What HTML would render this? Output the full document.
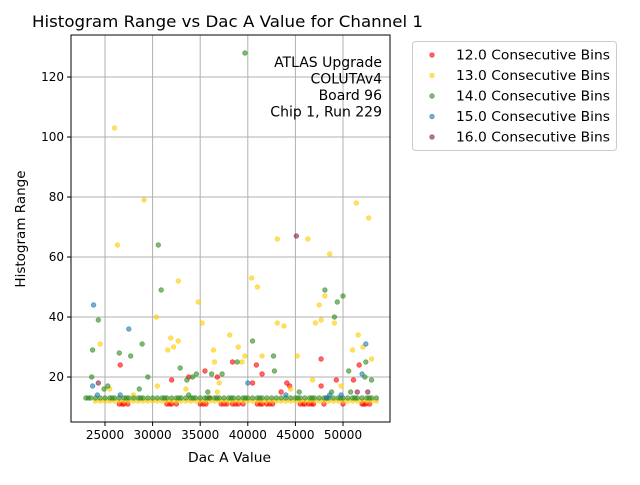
<!DOCTYPE html>
<html><head><meta charset="utf-8"><style>
body{margin:0;background:#fff;font-family:"Liberation Sans","DejaVu Sans",sans-serif}
svg text{font-family:"DejaVu Sans","Liberation Sans",sans-serif}
</style></head><body>
<svg id="c" width="640" height="480"></svg>
<script>
const xTicks=[25000,30000,35000,40000,45000,50000];
const yTicks=[20,40,60,80,100,120];
const seriesNames=["12.0 Consecutive Bins","13.0 Consecutive Bins","14.0 Consecutive Bins","15.0 Consecutive Bins","16.0 Consecutive Bins"];
const seriesColors=["#ff0000","#ffcc00","#2e8b1e","#1f77b4","#8b1a4a"];
const redX=[26600,35500,40900,38400,47700,47700,32000,33800,36800,41500,44100,44400,49300,51100,51700,26500,27000,27400,31500,32000,32500,35000,35600,37200,37800,38400,39000,39500,41000,41500,42000,42600,45500,46000,46400,46900,48000,50000,52000,52400,52800,43500,40500,36000,26800,31800,35300,37500,38700,41300,42300,45800,46700,52200];
const redY=[24,22,24,25,26,17,19,20,20,21,18,17,19,19,24,11,11,11,11,11,11,11,11,11,11,11,11,11,11,11,11,11,11,11,11,11,11,11,11,11,11,15,18,13,11,11,11,11,11,11,11,11,11,11];
const yelX=[26000,29100,26300,32700,34800,30400,24500,40400,41000,43100,43800,46300,48600,43100,51400,52700,48100,47500,47700,47100,49100,32200,31900,32700,31600,38100,36400,35200,36500,39700,39400,41500,45200,51000,51600,53000,52100,39000,24000,25000,26000,27000,28000,29000,30000,31000,32000,33000,34000,35000,36000,37000,38000,39000,40000,41000,42000,43000,44000,45000,46000,47000,48000,49000,50000,51000,52000,53000,53500,30500,33500,36800,44500,46800,49800,28000,25500,37000,24500,25500,26500,27500,28500,29500,30500,31500,32500,33500,34500,35500,36500,37500,38500,39500,40500,41500,42500,43500,44500,45500,46500,47500,48500,49500,50500,51500,52500];
const yelY=[103,79,64,52,45,40,31,53,50,38,37,66,61,66,78,73,47,44,39,38,38,30,33,32,29,34,29,38,25,27,25,27,27,29,34,26,30,30,12,12,12,12,12,12,12,12,12,12,12,12,12,12,12,12,12,12,12,12,12,12,12,12,12,12,12,12,12,12,12,17,16,15,16,19,17,14,16,18,12,12,12,12,12,12,12,12,12,12,12,12,12,12,12,12,12,12,12,12,12,12,12,12,12,12,12,12,12];
const grnX=[23700,24300,30600,30900,39700,26500,27700,28900,23600,40500,42800,42700,50000,48100,49400,49100,45400,32900,33600,34600,36200,38900,37300,34200,29500,52400,52300,53000,24900,25300,50600,28600,23000,23500,24000,24500,25000,25500,26000,26500,27000,27500,28000,28500,29000,29500,30000,30500,31000,31500,32000,32500,33000,33500,34000,34500,35000,35500,36000,36500,37000,37500,38000,38500,39000,39500,40000,40500,41000,41500,42000,42500,43000,43500,44000,44500,45000,45500,46000,46500,47000,47500,48000,48500,49000,49500,50000,50500,51000,51500,52000,52500,53000,53500,33800,35800,48800,50800,23250,25750,27250,28750,31250,32750,34250,35750,36750,38250,39750,41250,45250,46750,48250,49750,51250,52750];
const grnY=[29,39,64,49,128,28,27,31,20,32,22,27,47,49,45,40,15,23,19,21,21,25,21,20,20,25,20,19,16,17,22,16,13,13,13,13,13,13,13,13,13,13,13,13,13,13,13,13,13,13,13,13,13,13,13,13,13,13,13,13,13,13,13,13,13,13,13,13,13,13,13,13,13,13,13,13,13,13,13,13,13,13,13,13,13,13,13,13,13,13,13,13,13,13,14,15,15,15,13,13,13,13,13,13,13,13,13,13,13,13,13,13,13,13,13,13];
const bluX=[23800,27500,52400,23700,52000,49800,40000,44000,48300,48600,24200,26600];
const bluY=[44,36,31,17,21,14,18,14,13,14,14,14];
const purX=[45100,24300,51500,52600];
const purY=[67,18,15,15];
const seriesX=[redX,yelX,grnX,bluX,purX];
const seriesY=[redY,yelY,grnY,bluY,purY];

const NS="http://www.w3.org/2000/svg";
const svg=document.getElementById('c');
const L=71,R=390,T=35,B=422;
const xs=v=>105+(v-25000)*(343-105)/25000;
const ys=v=>377-(v-20)*3;
function el(t,a,p){const e=document.createElementNS(NS,t);for(const k in a)e.setAttribute(k,a[k]);(p||svg).appendChild(e);return e;}
function tx(s,a){const e=el('text',a);e.textContent=s;return e;}
xTicks.forEach(v=>{const g=el('line',{x1:xs(v),x2:xs(v),y1:T,y2:B,stroke:'#b0b0b0','stroke-width':1});

});
yTicks.forEach(v=>{const g=el('line',{x1:L,x2:R,y1:ys(v),y2:ys(v),stroke:'#b0b0b0','stroke-width':1});

});
seriesX.forEach((xa,si)=>{xa.forEach((xv,i)=>{const c=el('circle',{cx:xs(xv),cy:ys(seriesY[si][i]),r:2.3,fill:seriesColors[si],'fill-opacity':0.6,stroke:seriesColors[si],'stroke-opacity':0.6,'stroke-width':0.8});

});});
const fr=el('rect',{x:L,y:T,width:R-L,height:B-T,fill:'none',stroke:'#000','stroke-width':1});


xTicks.forEach(v=>{el('line',{x1:xs(v),x2:xs(v),y1:B,y2:B+4,stroke:'#000'});
const t=tx(v,{x:xs(v),y:B+17,'font-size':12,'text-anchor':'middle'});

});
yTicks.forEach(v=>{el('line',{x1:L-4,x2:L,y1:ys(v),y2:ys(v),stroke:'#000'});
const t=tx(v,{x:L-7,y:ys(v)+4,'font-size':12,'text-anchor':'end'});

});
const ti=tx('Histogram Range vs Dac A Value for Channel 1',{x:32,y:27,'font-size':16,textLength:391,lengthAdjust:'spacingAndGlyphs'});


const xt=tx('Dac A Value',{x:188,y:462,'font-size':13.5,textLength:83,lengthAdjust:'spacingAndGlyphs'});


const yt=tx('Histogram Range',{x:0,y:0,'font-size':13.5,'text-anchor':'middle',transform:'translate(25,229) rotate(-90)'});


['ATLAS Upgrade','COLUTAv4','Board 96','Chip 1, Run 229'].forEach((s,i)=>{const t=tx(s,{x:382,y:67+i*16.5,'font-size':14,'text-anchor':'end'});

});
const lg=el('rect',{x:412.5,y:41.5,width:204,height:109,rx:3,fill:'#fff',stroke:'#ccc'});


seriesNames.forEach((s,i)=>{const y=55+i*20.5;
const m=el('circle',{cx:432,cy:y,r:2.3,fill:seriesColors[i],'fill-opacity':0.6,stroke:seriesColors[i],'stroke-opacity':0.6,'stroke-width':0.8});


const t=tx(s,{x:456,y:y+4.5,'font-size':13.5,textLength:154,lengthAdjust:'spacingAndGlyphs'});

});
</script>
</body></html>
